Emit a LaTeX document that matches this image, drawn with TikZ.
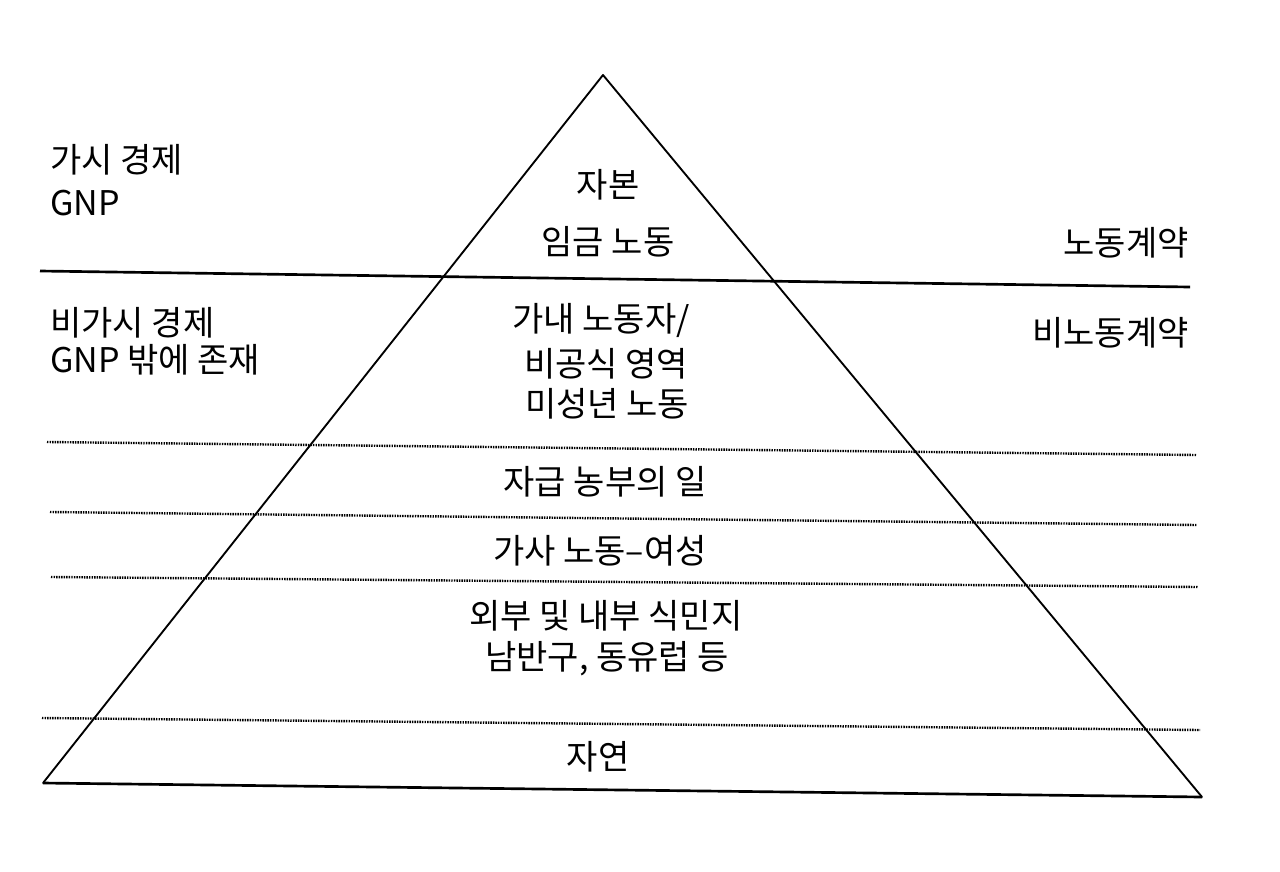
\documentclass[tikz,border=0pt]{standalone}
\usepackage{fontspec}
\setmainfont{Noto Sans CJK KR}
\begin{document}
\begin{tikzpicture}[x=0.75pt,y=-0.75pt,
  lbl/.style={inner sep=0pt, font=\fontsize{25.5pt}{30pt}\selectfont},
  side/.style={lbl, anchor=west},
  rlbl/.style={lbl, anchor=east},
  edge/.style={line width=1.4pt, line cap=round, line join=round},
  solidsep/.style={line width=2pt},
  dotsep/.style={line width=1.8pt, dash pattern=on 1.1pt off 0.8pt}]
\useasboundingbox (0,0) rectangle (1280,871);
% pyramid corners
\coordinate (apex) at (603,75);
\coordinate (bl) at (43,783);
\coordinate (br) at (1202,797);
\draw[edge] (bl) -- (apex) -- (br);
\draw[line width=2pt] (bl) -- (br);
% separators
\coordinate (s0l) at (40,271);  \coordinate (s0r) at (1190,287);
\coordinate (s1l) at (47,442);  \coordinate (s1r) at (1197,455);
\coordinate (s2l) at (50,512);  \coordinate (s2r) at (1197,525);
\coordinate (s3l) at (51,577);  \coordinate (s3r) at (1198,587);
\coordinate (s4l) at (42,718);  \coordinate (s4r) at (1200,730);
\draw[solidsep] (s0l) -- (s0r);
\draw[dotsep] (s1l) -- (s1r);
\draw[dotsep] (s2l) -- (s2r);
\draw[dotsep] (s3l) -- (s3r);
\draw[dotsep] (s4l) -- (s4r);
% left labels
\node[side] (vis1) at (50,160) {가시 경제};
\node[side] (vis2) at (50,203) {GNP};
\node[side] (inv1) at (50,323) {비가시 경제};
\node[side] (inv2) at (50,360) {GNP 밖에 존재};
% right labels
\node[rlbl] (contract) at (1189,243) {노동계약};
\node[rlbl] (noncontract) at (1189,333) {비노동계약};
% pyramid labels
\node[lbl] (capital) at (608,185) {자본};
\node[lbl] (wage) at (608,242) {임금 노동};
\node[lbl] (home1) at (601,320) {가내 노동자/};
\node[lbl] (home2) at (606,364) {비공식 영역};
\node[lbl] (home3) at (607,404) {미성년 노동};
\node[lbl] (farm) at (605,482) {자급 농부의 일};
\node[lbl] (house) at (600,551) {가사 노동–여성};
\node[lbl] (col1) at (606,616) {외부 및 내부 식민지};
\node[lbl] (col2) at (607,659) {남반구, 동유럽 등};
\node[lbl] (nature) at (598,757) {자연};
\end{tikzpicture}
\end{document}
